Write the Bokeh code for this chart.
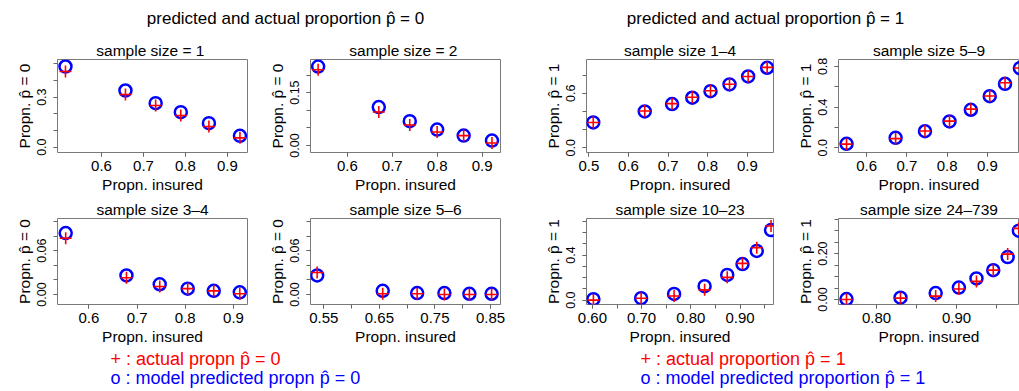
from bokeh.plotting import figure
from bokeh.layouts import column, row
from bokeh.models import Range1d, FixedTicker, PrintfTickFormatter, Label, ColumnDataSource
from bokeh.embed import file_html
from bokeh.resources import INLINE

FONT = "Liberation Sans"
HAT0 = "p\u0302 = 0"
HAT1 = "p\u0302 = 1"

# ---------------- data ----------------
# predicted and actual proportion p-hat = 0
x_n1 = [0.514, 0.657, 0.729, 0.789, 0.856, 0.930]
act_n1 = [0.454, 0.316, 0.250, 0.190, 0.124, 0.056]
pred_n1 = [0.484, 0.340, 0.264, 0.210, 0.144, 0.068]

x_n2 = [0.535, 0.670, 0.739, 0.800, 0.859, 0.922]
act_n2 = [0.215, 0.095, 0.058, 0.038, 0.028, 0.007]
pred_n2 = [0.224, 0.109, 0.069, 0.045, 0.028, 0.014]

x_n34 = [0.552, 0.678, 0.747, 0.805, 0.859, 0.913]
act_n34 = [0.077, 0.023, 0.011, 0.008, 0.005, 0.001]
pred_n34 = [0.084, 0.026, 0.014, 0.008, 0.005, 0.003]

x_n56 = [0.538, 0.656, 0.718, 0.767, 0.812, 0.852]
act_n56 = [0.030, 0.001, 0.001, 0.000, 0.000, 0.000]
pred_n56 = [0.026, 0.005, 0.002, 0.002, 0.001, 0.001]

# predicted and actual proportion p-hat = 1
x_n14 = [0.511, 0.641, 0.710, 0.761, 0.807, 0.855, 0.902, 0.950]
act_n14 = [0.279, 0.405, 0.486, 0.556, 0.628, 0.700, 0.785, 0.885]
pred_n14 = [0.279, 0.400, 0.481, 0.551, 0.623, 0.697, 0.785, 0.881]

x_n59 = [0.550, 0.672, 0.745, 0.806, 0.859, 0.906, 0.944, 0.981]
act_n59 = [0.036, 0.090, 0.165, 0.262, 0.380, 0.510, 0.640, 0.785]
pred_n59 = [0.039, 0.098, 0.163, 0.259, 0.374, 0.507, 0.629, 0.783]

x_n1023 = [0.602, 0.699, 0.766, 0.828, 0.874, 0.905, 0.934, 0.963]
act_n1023 = [0.000, 0.017, 0.036, 0.091, 0.202, 0.326, 0.465, 0.658]
pred_n1023 = [0.008, 0.017, 0.055, 0.124, 0.224, 0.320, 0.437, 0.622]

x_n24 = [0.7625, 0.830, 0.874, 0.903, 0.925, 0.946, 0.964, 0.978]
act_n24 = [0.000, 0.006, 0.015, 0.046, 0.079, 0.128, 0.198, 0.310]
pred_n24 = [0.002, 0.008, 0.028, 0.052, 0.092, 0.128, 0.185, 0.300]

titles = ["sample size  = 1", "sample size  = 2", "sample size 3\u20134", "sample size 5\u20136",
          "sample size 1\u20134", "sample size 5\u20139", "sample size 10\u201323", "sample size 24\u2013739"]
main_titles = ["predicted and actual proportion " + HAT0, "predicted and actual proportion " + HAT1]
legend_left = ["+ : actual propn " + HAT0, "o : model predicted propn " + HAT0]
legend_right = ["+ : actual proportion " + HAT1, "o : model predicted proportion " + HAT1]
xlab = "Propn. insured"
ylab0 = "Propn. " + HAT0
ylab1 = "Propn. " + HAT1


def make_panel(title, x, act, pred, xr, yr, xmaj, xmin, xfmt, ymaj, ymin, yfmt, ylab,
               fw, fh, bl, br, bt, bb):
    p = figure(width=fw + bl + br, height=fh + bt + bb, x_range=Range1d(*xr), y_range=Range1d(*yr),
               output_backend="svg", toolbar_location=None, title=title,
               min_border_left=bl, min_border_right=br, min_border_top=bt, min_border_bottom=bb)
    p.grid.visible = False
    p.outline_line_color = "#7a7a7a"
    p.outline_line_width = 1
    p.title.text_font = FONT
    p.title.text_font_size = "15.5px"
    p.title.text_font_style = "normal"
    p.title.align = "center"
    p.title.standoff = 2
    p.title.text_color = "black"
    src = ColumnDataSource(dict(x=x, act=act, pred=pred))
    p.scatter("x", "pred", source=src, marker="circle", size=12, fill_color=None,
              line_color="#0000ff", line_width=2.5)
    p.scatter("x", "act", source=src, marker="cross", size=12, line_color="#ff0000",
              line_width=1.6)
    xa = p.xaxis[0]
    xa.ticker = FixedTicker(ticks=xmaj, minor_ticks=xmin)
    xa.formatter = PrintfTickFormatter(format=xfmt)
    xa.axis_label = xlab
    xa.axis_label_text_font_size = "15.5px"
    xa.axis_label_text_font_style = "normal"
    xa.axis_label_text_font = FONT
    xa.major_label_text_font = FONT
    xa.major_label_text_font_size = "15px"
    xa.major_label_standoff = 4
    xa.axis_label_standoff = 2
    ya = p.yaxis[0]
    ya.ticker = FixedTicker(ticks=ymaj, minor_ticks=ymin)
    ya.formatter = PrintfTickFormatter(format=yfmt)
    ya.axis_label = ylab
    ya.axis_label_text_font_size = "15.5px"
    ya.axis_label_text_font_style = "normal"
    ya.axis_label_text_font = FONT
    ya.major_label_text_font = FONT
    ya.major_label_text_font_size = "12.5px"
    ya.major_label_orientation = "vertical"
    ya.major_label_standoff = 7
    ya.axis_label_standoff = 2
    for a in (xa, ya):
        a.axis_line_color = None
        a.major_tick_in = 0
        a.major_tick_out = 4
        a.minor_tick_in = 0
        a.minor_tick_out = 4
        a.major_tick_line_color = "#666666"
        a.minor_tick_line_color = "#666666"
        a.major_label_text_color = "black"
        a.axis_label_text_color = "black"
    return p


def steps(a, b, s):
    out = []
    v = a
    while v <= b + 1e-9:
        out.append(round(v, 4))
        v += s
    return out

# row 1
p1 = make_panel(titles[0], x_n1, act_n1, pred_n1, (0.495, 0.948), (-0.032, 0.526),
                [0.6, 0.7, 0.8, 0.9], [0.6, 0.7, 0.8, 0.9], "%.1f",
                [0.0, 0.3], steps(0, 0.5, 0.1), "%.1f", ylab0, 190, 93, 57, 15, 21, 45)
p2 = make_panel(titles[1], x_n2, act_n2, pred_n2, (0.518, 0.941), (-0.020, 0.244),
                [0.6, 0.7, 0.8, 0.9], [0.6, 0.7, 0.8, 0.9], "%.1f",
                [0.0, 0.15], steps(0, 0.2, 0.05), "%.2f", ylab0, 190, 93, 48, 20, 21, 45)
p5 = make_panel(titles[4], x_n14, act_n14, pred_n14, (0.494, 0.966), (-0.052, 0.972),
                [0.5, 0.6, 0.7, 0.8, 0.9], [0.5, 0.6, 0.7, 0.8, 0.9], "%.1f",
                [0.0, 0.6], steps(0, 0.8, 0.2), "%.1f", ylab1, 187, 93, 66, 17, 21, 45)
p6 = make_panel(titles[5], x_n59, act_n59, pred_n59, (0.530, 0.980), (-0.046, 0.868),
                [0.6, 0.7, 0.8, 0.9], [0.6, 0.7, 0.8, 0.9], "%.1f",
                [0.0, 0.4, 0.8], steps(0, 0.8, 0.2), "%.1f", ylab1, 181, 93, 48, 0, 21, 45)
# row 2
p3 = make_panel(titles[2], x_n34, act_n34, pred_n34, (0.535, 0.929), (-0.0137, 0.104),
                [0.6, 0.7, 0.8, 0.9], [0.6, 0.7, 0.8, 0.9], "%.1f",
                [0.0, 0.06], steps(0, 0.1, 0.02), "%.2f", ylab0, 190, 92, 57, 15, 20, 38)
p4 = make_panel(titles[3], x_n56, act_n56, pred_n56, (0.526, 0.868), (-0.0137, 0.104),
                [0.55, 0.65, 0.75, 0.85], steps(0.55, 0.85, 0.05), "%.2f",
                [0.0, 0.06], steps(0, 0.1, 0.02), "%.2f", ylab0, 190, 92, 48, 20, 20, 38)
p7 = make_panel(titles[6], x_n1023, act_n1023, pred_n1023, (0.588, 0.968), (-0.039, 0.725),
                [0.6, 0.7, 0.8, 0.9], steps(0.6, 0.95, 0.05), "%.2f",
                [0.0, 0.4], steps(0, 0.7, 0.1), "%.1f", ylab1, 187, 92, 66, 17, 20, 38)
p8 = make_panel(titles[7], x_n24, act_n24, pred_n24, (0.7525, 0.9788), (-0.0216, 0.353),
                [0.8, 0.9], steps(0.8, 0.95, 0.05), "%.2f",
                [0.0, 0.2], steps(0, 0.35, 0.05), "%.2f", ylab1, 181, 92, 48, 0, 20, 38)


def text_strip(w, h):
    f = figure(width=w, height=h, x_range=Range1d(0, w), y_range=Range1d(0, h),
               output_backend="svg", toolbar_location=None, min_border=0,
               x_axis_location=None, y_axis_location=None)
    f.grid.visible = False
    f.outline_line_color = None
    return f

header = text_strip(1019, 38)
header.add_layout(Label(x=285, y=20, text=main_titles[0], text_align="center", text_baseline="middle",
                        text_font=FONT, text_font_size="17px", text_color="black"))
header.add_layout(Label(x=765, y=20, text=main_titles[1], text_align="center", text_baseline="middle",
                        text_font=FONT, text_font_size="17px", text_color="black"))

footer = text_strip(1019, 44)
for i, (tl, tr) in enumerate(zip(legend_left, legend_right)):
    col = "#ff0000" if i == 0 else "#0000ff"
    yy = 33 if i == 0 else 14
    footer.add_layout(Label(x=110, y=yy, text=tl, text_align="left", text_baseline="middle",
                            text_font=FONT, text_font_size="18px", text_color=col))
    footer.add_layout(Label(x=640, y=yy, text=tr, text_align="left", text_baseline="middle",
                            text_font=FONT, text_font_size="18px", text_color=col))

layout = column(header, row(p1, p2, p5, p6), row(p3, p4, p7, p8), footer)

open("out.html", "w").write(file_html(layout, INLINE))
